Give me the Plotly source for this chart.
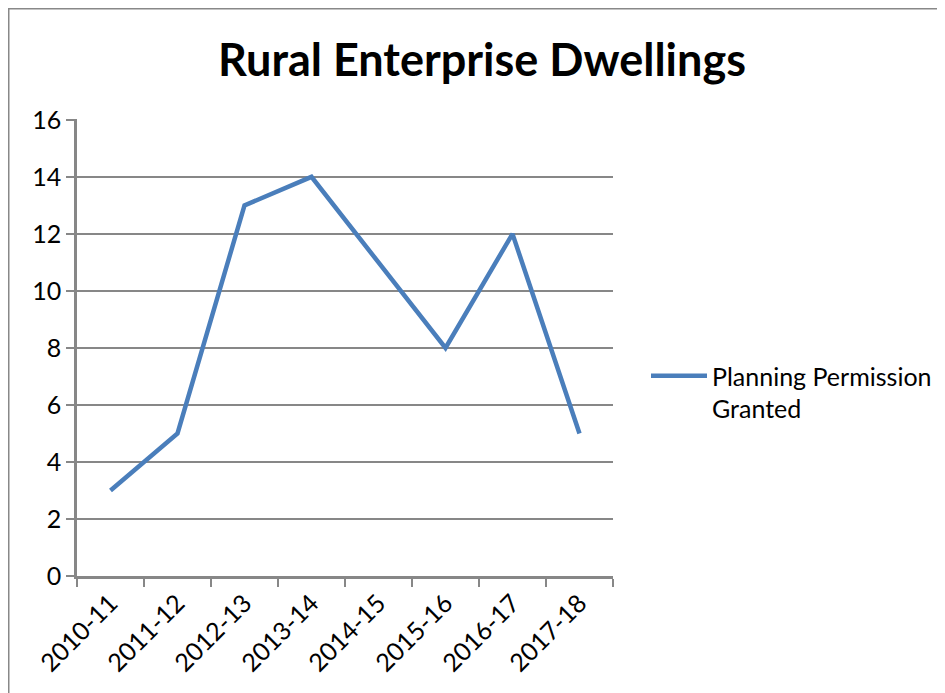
import plotly.graph_objects as go

categories = ["2010-11", "2011-12", "2012-13", "2013-14", "2014-15", "2015-16", "2016-17", "2017-18"]
values = [3, 5, 13, 14, 11, 8, 12, 5]
series_name = "Planning Permission<br>Granted"

OFF = 8  # page body margin
W, H = 945 - OFF, 693 - OFF
L, R, T, B = 77 - OFF, 613 - OFF, 119 - OFF, 576 - OFF
pw, ph = R - L, B - T


def px(x):  # reference-pixel x -> paper
    return (x - OFF - L) / pw


def py(y):  # reference-pixel y -> paper
    return (B - (y - OFF)) / ph


FONT = "Lato, Open Sans, sans-serif"
GRID = "#878787"
FS = 25

fig = go.Figure()
fig.add_trace(go.Scatter(
    x=categories, y=values, mode="lines", name=series_name,
    line=dict(color="#4A7EBB", width=4.5),
    showlegend=True,
))

fig.update_layout(
    width=W, height=H,
    margin=dict(l=L, r=W - R, t=T, b=H - B, pad=0, autoexpand=False),
    paper_bgcolor="white", plot_bgcolor="white",
    title=dict(text="<b>Rural Enterprise Dwellings</b>", x=px(482), xref="paper", xanchor="center",
               y=1 - (60 - OFF) / H, yanchor="middle",
               font=dict(family=FONT, size=45, color="black")),
    font=dict(family=FONT, size=FS, color="black"),
    legend=dict(x=px(646), y=py(392), xanchor="left", yanchor="middle",
                bgcolor="rgba(0,0,0,0)", font=dict(size=FS, family=FONT),
                itemwidth=56, tracegroupgap=0, valign="top"),
    shapes=[dict(type="rect", xref="paper", yref="paper",
                 x0=px(8.5), x1=px(980), y0=py(8.5), y1=py(720),
                 line=dict(color="#888888", width=2), layer="below")],
)

fig.update_xaxes(
    type="category", range=[-0.5, len(categories) - 0.5],
    showgrid=False, showline=True, linecolor=GRID, linewidth=2.5,
    ticks="outside", ticklen=8, tickwidth=2, tickcolor=GRID, tickson="boundaries",
    tickangle=-45, tickfont=dict(size=FS, family=FONT, color="black"),
)
fig.update_yaxes(
    range=[0, 16.03], dtick=2, tick0=0,
    showgrid=True, gridcolor=GRID, gridwidth=1.5,
    showline=True, linecolor=GRID, linewidth=2.5,
    ticks="outside", ticklen=8, tickwidth=1.5, tickcolor=GRID,
    tickfont=dict(size=FS, family=FONT, color="black"), zeroline=False,
)

fig.write_html("out.html")
